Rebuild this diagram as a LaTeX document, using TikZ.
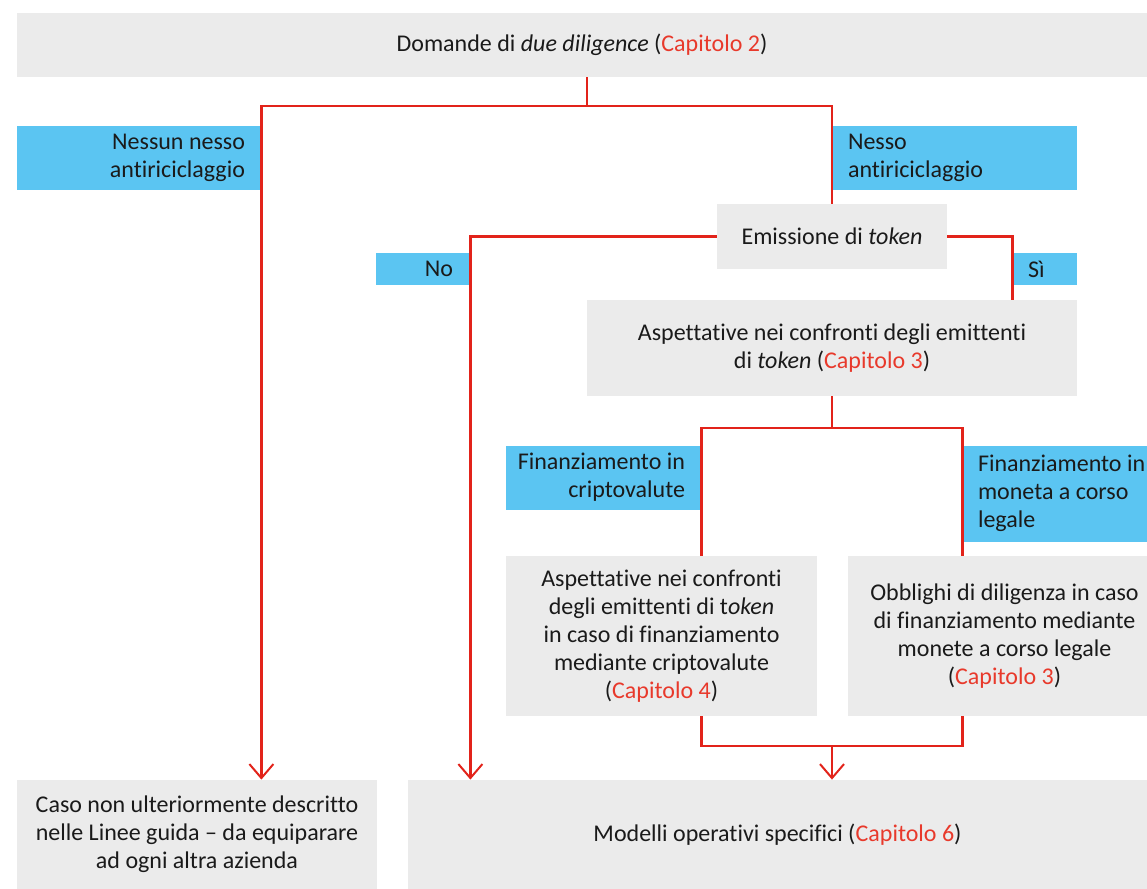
\documentclass[tikz,border=0pt]{standalone}
\usepackage{fontspec}
\setmainfont{Carlito}[Ligatures=NoCommon]
\usetikzlibrary{arrows.meta}
\definecolor{boxgray}{HTML}{EBEBEB}
\definecolor{lblue}{HTML}{5BC5F2}
\definecolor{lred}{HTML}{E2231A}
\definecolor{capred}{HTML}{E8392B}
\definecolor{txt}{HTML}{1A1A1A}
\newcommand{\capref}[1]{(\textcolor{capred}{Capitolo #1})}
\begin{document}
\begin{tikzpicture}[x=0.5pt,y=-0.5pt,
  font=\fontsize{12}{14}\selectfont\color{txt},
  graybox/.style={fill=boxgray,draw=none,inner sep=0pt,align=center},
  bluebox/.style={fill=lblue,draw=none,inner ysep=0pt,inner xsep=0pt},
  conn/.style={draw=lred,line width=1.2pt},
  arr/.style={-{Straight Barb[length=7pt,width=12pt,line width=1pt]}}]
\useasboundingbox (0,0) rectangle (1147,889);
% gray boxes
\node[graybox,minimum width=565pt,minimum height=32pt] (top) at (582,45)
  {Domande di \textit{due diligence} \capref{2}};
\node[graybox,minimum width=115pt,minimum height=32.5pt] (emis) at (832,236.5)
  {Emissione di \textit{token}};
\node[graybox,minimum width=245pt,minimum height=48pt] (asp) at (832,348)
  {Aspettative nei confronti degli emittenti\\di \textit{token} \capref{3}};
\node[graybox,minimum width=155.5pt,minimum height=80pt] (bl) at (661.5,636)
  {Aspettative nei confronti\\degli emittenti di t\textit{oken}\\in caso di finanziamento\\mediante criptovalute\\\capref{4}};
\node[graybox,minimum width=149.5pt,minimum height=80pt] (br) at (997.5,636)
  {\hspace*{7pt}Obblighi di diligenza in caso\\\hspace*{7pt}di finanziamento mediante\\\hspace*{7pt}monete a corso legale\\\hspace*{7pt}\capref{3}};
\node[graybox,minimum width=180pt,minimum height=54.5pt] (cnd) at (197,834.5)
  {Caso non ulteriormente descritto\\nelle Linee guida -- da equiparare\\ad ogni altra azienda};
\node[graybox,minimum width=369.5pt,minimum height=54.5pt] (mod) at (777.5,834.5)
  {Modelli operativi specifici \capref{6}};
% blue labels
\node[bluebox,minimum height=32pt,text width=122pt,align=flush right] (lab1) at (139,157.5)
  {Nessun nesso\kern8pt\\antiriciclaggio\kern8pt};
\node[bluebox,minimum height=32pt,text width=122.5pt,align=flush left] (lab2) at (954.5,157.5)
  {\hspace*{8pt}Nesso\\\hspace*{8pt}antiriciclaggio};
\node[bluebox,minimum height=16pt,text width=47pt,align=flush right] (no) at (423,269)
  {No\kern8.5pt};
\node[bluebox,minimum height=16pt,text width=32pt,align=flush left] (si) at (1045,269)
  {\hspace*{7.5pt}Sì};
\node[bluebox,minimum height=32pt,text width=97.5pt,align=flush right] (fc) at (603.5,477.5)
  {Finanziamento in\kern8pt\\criptovalute\kern8pt};
\node[bluebox,minimum height=48pt,text width=92pt,align=flush left] (fm) at (1055,493.5)
  {\hspace*{7.5pt}Finanziamento in\\\hspace*{7.5pt}moneta a corso\\\hspace*{7.5pt}legale};
% junctions
\coordinate (j1) at (587,106);
\coordinate (j2) at (832,428);
\coordinate (j3) at (832,746);
% connectors
\draw[conn] (top.south -| j1) -- (j1);
\draw[conn,arr] (j1) -| (cnd.north -| lab1.east);
\draw[conn] (j1) -| (emis.north);
\draw[conn,arr] (emis.west) -| (mod.north -| no.east);
\draw[conn] (emis.east) -| (asp.north -| si.west);
\draw[conn] (asp.south) -- (j2);
\draw[conn] (j2) -| (bl.north -| fc.east);
\draw[conn] (j2) -| (br.north -| fm.west);
\draw[conn] (bl.south -| fc.east) |- (j3) -| (br.south -| fm.west);
\draw[conn,arr] (j3) -- (mod.north -| j3);
\end{tikzpicture}
\end{document}
